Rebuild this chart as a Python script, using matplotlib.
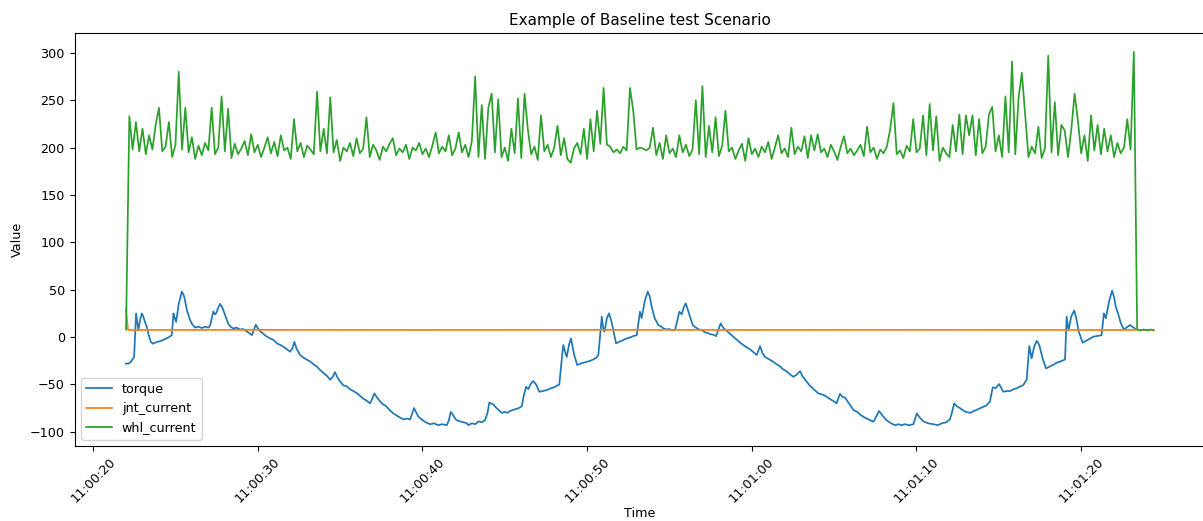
import numpy as np
import matplotlib
matplotlib.use("Agg")
import matplotlib.pyplot as plt
import matplotlib.dates as mdates

# seconds after 11:00:00
torque_t = [21.99, 22.15, 22.3, 22.49, 22.61, 22.75, 22.85, 22.96, 23.04, 23.15, 23.26, 23.38, 23.5, 23.62, 23.76,
            23.9, 24.05, 24.27, 24.4, 24.55, 24.78, 24.88, 24.96, 25.04, 25.2, 25.39, 25.53, 25.7, 25.89, 26.0,
            26.19, 26.4, 26.6, 26.8, 27.0, 27.1, 27.3, 27.4, 27.47, 27.6, 27.71, 27.85, 28.0, 28.21, 28.35,
            28.52, 28.7, 28.93, 29.1, 29.33, 29.5, 29.64, 29.88, 30.08, 30.3, 30.5, 30.7, 30.95, 31.2, 31.45,
            31.7, 31.96, 32.1, 32.22, 32.35, 32.57, 32.8, 33.0, 33.2, 33.4, 33.58, 33.8, 34.0, 34.2, 34.39,
            34.55, 34.69, 34.85, 35.0, 35.2, 35.4, 35.6, 35.8, 36.0, 36.2, 36.41, 36.6, 36.82, 36.95, 37.08,
            37.25, 37.43, 37.6, 37.8, 38.0, 38.23, 38.45, 38.65, 38.84, 39.05, 39.25, 39.35, 39.49, 39.6, 39.75,
            39.95, 40.2, 40.46, 40.7, 40.95, 41.2, 41.48, 41.6, 41.72, 41.85, 41.98, 42.1, 42.28, 42.5, 42.69,
            42.79, 43.0, 43.2, 43.4, 43.6, 43.8, 43.95, 44.06, 44.15, 44.29, 44.5, 44.81, 45.0, 45.15, 45.32,
            45.5, 45.7, 45.85, 46.03, 46.15, 46.29, 46.43, 46.55, 46.73, 46.9, 47.1, 47.3, 47.55, 47.8, 48.0,
            48.2, 48.31, 48.45, 48.55, 48.65, 48.76, 48.9, 49.02, 49.2, 49.4, 49.6, 49.8, 50.0, 50.2, 50.38,
            50.55, 50.68, 50.89, 50.97, 51.05, 51.2, 51.33, 51.5, 51.65, 51.76, 51.95, 52.15, 52.4, 52.6, 52.8,
            53.01, 53.21, 53.31, 53.5, 53.68, 53.8, 53.92, 54.1, 54.32, 54.5, 54.65, 54.83, 55.0, 55.15, 55.34,
            55.6, 55.74, 55.88, 55.99, 56.2, 56.41, 56.6, 56.8, 56.96, 57.15, 57.36, 57.5, 57.65, 57.83, 58.11,
            58.3, 58.48, 58.7, 58.9, 59.1, 59.3, 59.48, 59.7, 59.9, 60.1, 60.3, 60.5, 60.65, 60.8, 61.0,
            61.2, 61.45, 61.71, 61.9, 62.1, 62.3, 62.52, 62.7, 62.93, 63.1, 63.33, 63.51, 63.7, 63.9, 64.04,
            64.34, 64.55, 64.8, 65.0, 65.15, 65.35, 65.5, 65.66, 65.9, 66.17, 66.4, 66.6, 66.85, 67.1, 67.39,
            67.55, 67.73, 67.85, 67.99, 68.2, 68.45, 68.7, 68.9, 69.1, 69.3, 69.55, 69.81, 70.02, 70.2, 70.42,
            70.7, 71.03, 71.3, 71.55, 71.8, 72.03, 72.15, 72.29, 72.45, 72.64, 72.8, 73.0, 73.25, 73.5, 73.75,
            74.0, 74.26, 74.46, 74.63, 74.8, 75.02, 75.27, 75.5, 75.68, 75.9, 76.1, 76.3, 76.48, 76.69, 76.85,
            76.99, 77.15, 77.3, 77.45, 77.65, 77.86, 78.0, 78.2, 78.35, 78.51, 78.7, 78.85, 79.02, 79.12, 79.23,
            79.4, 79.58, 79.7, 79.85, 80.09, 80.3, 80.5, 80.73, 80.95, 81.1, 81.24, 81.38, 81.5, 81.7, 81.88,
            82.0, 82.1, 82.24, 82.4, 82.59, 82.75, 82.96, 83.1, 83.27]
torque = [-28, -28, -26, -21, 25, 7, 18, 25, 22, 16, 11, 2, -5, -7, -6,
          -5, -4.5, -3, -2, -0.5, 2, 25, 20, 16, 35, 48, 43, 28, 18, 14,
          10, 11, 9.5, 11, 10, 12, 27, 24, 25, 31, 35, 31, 24, 14, 11,
          9, 10, 8, 8.5, 6, 4, 2, 13, 7, 4, 1, -1, -3, -7, -9,
          -12, -15.5, -12, -5, -12, -19, -22, -24, -26, -29, -31, -35, -38, -41, -45,
          -42, -37, -43, -47, -51, -52, -55, -57, -59, -62, -65, -67, -70, -65, -59.5,
          -64, -68, -71, -73, -77, -80.6, -83, -85, -87, -86, -87, -82, -75, -79, -84,
          -87, -90, -92, -91, -93, -92, -93, -88, -79, -82, -86, -88, -89, -90, -91,
          -93, -91, -92, -89, -90, -87.6, -80, -69, -70, -71, -75, -80, -79, -80, -78,
          -77, -76, -75, -73, -62, -52.5, -55, -50, -46.5, -50, -57.7, -57, -56, -54, -53,
          -51, -50, -25, -8.4, -15, -21, -8, -1.4, -18, -29.6, -28, -27, -26, -25, -23.6,
          -22, -19, 21.5, 10, 5.6, 20, 25, 15, 2, -6.7, -5, -3.5, -1.4, -0.5, 1,
          2, 26.7, 20, 38, 48, 43, 32, 20, 12.7, 11, 9, 8, 8.5, 7, 7.5,
          26.7, 24, 32, 35.6, 24, 12.7, 10, 8, 7.5, 5, 4, 3, 2.5, 1, 14.4,
          9, 6.7, 3, 0, -3, -6, -8.4, -11, -13, -16, -19, -9.5, -17, -21, -23,
          -25, -28, -31, -34, -36, -39, -42, -40, -36, -42, -47, -51, -54, -57, -59.5,
          -61, -63, -66, -68, -70, -60, -63, -64, -70, -77, -79, -82, -85, -87, -89.4,
          -84, -78, -81, -84, -88, -91, -93, -92, -93, -92, -93, -92, -80.6, -85, -89,
          -91, -92, -93, -91, -90, -87, -80, -70, -73, -75, -77, -79, -80, -78, -76,
          -74, -72, -68, -53, -54, -49.6, -57.7, -57, -57, -55, -54, -52, -50.7, -45, -9.5,
          -22.5, -10, -4, -8, -22, -33, -32, -30, -29, -27, -26, -25, -23.6, 21.5, 7,
          22, 28, 20, 6, -6, -4, -2, 0.4, 1, 1.5, 2, 25, 20, 38, 49,
          42, 32, 25, 15, 8, 10, 12.7, 11, 9]

jnt_t = [21.99, 22.12, 30.0, 40.0, 50.0, 60.0, 70.0, 80.0, 84.4]
jnt_current = [30, 7.5, 7.6, 7.5, 7.6, 7.5, 7.6, 7.5, 7.5]

# wheel current, sampled every 0.2 s from 22.0 s
whl_t0 = 22.0
whl_dt = 0.2
whl_current = [
    8, 233, 198, 227, 196, 220, 193, 213, 198, 224,
    242, 196, 201, 227, 190, 203, 280, 198, 242, 195,
    211, 188, 202, 192, 205, 197, 242, 193, 200, 254,
    196, 241, 189, 204, 193, 199, 207, 192, 214, 195,
    203, 190, 200, 211, 194, 206, 191, 213, 197, 200,
    188, 230, 196, 205, 190, 202, 198, 193, 259, 196,
    220, 194, 253, 195, 208, 186, 200, 196, 205, 191,
    210, 194, 199, 232, 190, 203, 197, 187, 201, 196,
    204, 210, 192, 199, 195, 203, 188, 200, 197, 205,
    193, 199, 190, 202, 216, 194, 201, 196, 213, 192,
    199, 216, 195, 203, 190, 207, 275, 190, 245, 188,
    242, 257, 195, 251, 190, 200, 186, 220, 194, 252,
    189, 257, 219, 193, 201, 187, 234, 196, 203, 190,
    200, 223, 192, 210, 188, 184, 199, 205, 193, 220,
    188, 230, 196, 239, 204, 263, 203, 201, 195, 198,
    194, 201, 197, 263, 239, 198, 200, 199, 197, 200,
    221, 192, 205, 188, 213, 194, 199, 190, 213, 195,
    203, 191, 198, 250, 193, 265, 190, 223, 195, 232,
    191, 202, 239, 196, 200, 188, 197, 204, 186, 210,
    193, 199, 190, 201, 195, 206, 188, 200, 213, 194,
    199, 190, 221, 193, 201, 196, 212, 189, 213, 197,
    214, 195, 199, 190, 203, 196, 187, 201, 212, 194,
    199, 192, 197, 203, 191, 222, 195, 200, 188, 198,
    194, 201, 219, 247, 193, 197, 189, 202, 196, 230,
    195, 199, 234, 192, 246, 197, 233, 186, 200, 194,
    190, 224, 196, 235, 193, 234, 213, 234, 192, 230,
    194, 201, 235, 243, 196, 213, 190, 254, 195, 291,
    193, 253, 279, 234, 190, 201, 194, 222, 189, 199,
    297, 195, 248, 192, 224, 218, 190, 219, 257, 229,
    194, 213, 186, 234, 197, 224, 193, 220, 196, 213,
    190, 205, 194, 200, 230, 198, 301, 8, 7, 8,
    7, 8, 7,
]


def to_time(sec):
    base = np.datetime64("2021-01-01T11:00:00")
    ms = np.round(np.asarray(sec, dtype=float) * 1000).astype("timedelta64[ms]")
    return base + ms


whl_t = whl_t0 + whl_dt * np.arange(len(whl_current))

fig = plt.figure(figsize=(12.03, 5.21), dpi=100)
ax = fig.add_axes([74.5 / 1203, 75 / 521, (1205 - 74.5) / 1203, 413 / 521])

lw = 1.25
ax.plot(to_time(torque_t), torque, label="torque", color="C0", linewidth=lw)
ax.plot(to_time(jnt_t), jnt_current, label="jnt_current", color="C1", linewidth=lw)
ax.plot(to_time(whl_t), whl_current, label="whl_current", color="C2", linewidth=lw)

ax.set_xlim(to_time(18.87), to_time(87.52))
ax.set_ylim(-115, 321)
ax.set_yticks([-100, -50, 0, 50, 100, 150, 200, 250, 300])

ax.xaxis.set_major_locator(mdates.SecondLocator(bysecond=range(0, 60, 10)))
ax.xaxis.set_major_formatter(mdates.DateFormatter("%H:%M:%S"))
plt.setp(ax.get_xticklabels(), rotation=45)
ax.tick_params(labelsize=9.2)

ax.set_title("Example of Baseline test Scenario", fontsize=11)
ax.set_xlabel("Time", fontsize=9.2, labelpad=1)
ax.set_ylabel("Value", fontsize=9.2)
ax.legend(loc="lower left", fontsize=9.2)

fig.savefig("out.png", dpi=100)
